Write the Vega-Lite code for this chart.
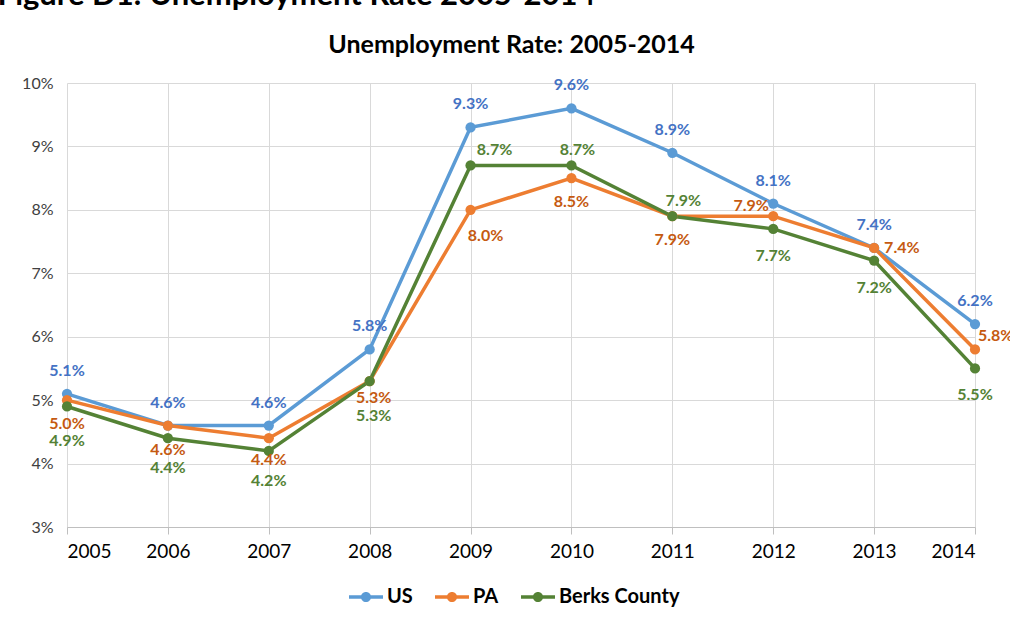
{
  "$schema": "https://vega.github.io/schema/vega-lite/v6.json",
  "autosize": "none",
  "width": 908,
  "height": 444,
  "padding": {"left": 67, "top": 83, "right": 35, "bottom": 93},
  "background": "white",
  "config": {
    "view": {"stroke": null},
    "font": "Lato",
    "axis": {"gridColor": "#D9D9D9", "gridWidth": 1, "domainColor": "#BFBFBF", "tickColor": "#BFBFBF"}
  },
  "title": {
    "text": "Figure D1: Unemployment Rate 2005-2014",
    "anchor": "start",
    "frame": "bounds",
    "dx": -24,
    "dy": 12,
    "fontSize": 31,
    "fontWeight": "bold",
    "font": "Lato",
    "color": "#000000",
    "baseline": "alphabetic",
    "offset": 8
  },
  "data": {
    "values": [
      {"year": 2005, "series": "US", "rate": 0.051},
      {"year": 2006, "series": "US", "rate": 0.046},
      {"year": 2007, "series": "US", "rate": 0.046},
      {"year": 2008, "series": "US", "rate": 0.058},
      {"year": 2009, "series": "US", "rate": 0.093},
      {"year": 2010, "series": "US", "rate": 0.096},
      {"year": 2011, "series": "US", "rate": 0.089},
      {"year": 2012, "series": "US", "rate": 0.081},
      {"year": 2013, "series": "US", "rate": 0.074},
      {"year": 2014, "series": "US", "rate": 0.062},
      {"year": 2005, "series": "PA", "rate": 0.050},
      {"year": 2006, "series": "PA", "rate": 0.046},
      {"year": 2007, "series": "PA", "rate": 0.044},
      {"year": 2008, "series": "PA", "rate": 0.053},
      {"year": 2009, "series": "PA", "rate": 0.080},
      {"year": 2010, "series": "PA", "rate": 0.085},
      {"year": 2011, "series": "PA", "rate": 0.079},
      {"year": 2012, "series": "PA", "rate": 0.079},
      {"year": 2013, "series": "PA", "rate": 0.074},
      {"year": 2014, "series": "PA", "rate": 0.058},
      {"year": 2005, "series": "Berks County", "rate": 0.049},
      {"year": 2006, "series": "Berks County", "rate": 0.044},
      {"year": 2007, "series": "Berks County", "rate": 0.042},
      {"year": 2008, "series": "Berks County", "rate": 0.053},
      {"year": 2009, "series": "Berks County", "rate": 0.087},
      {"year": 2010, "series": "Berks County", "rate": 0.087},
      {"year": 2011, "series": "Berks County", "rate": 0.079},
      {"year": 2012, "series": "Berks County", "rate": 0.077},
      {"year": 2013, "series": "Berks County", "rate": 0.072},
      {"year": 2014, "series": "Berks County", "rate": 0.055}
    ]
  },
  "encoding": {
    "x": {
      "field": "year", "type": "quantitative",
      "scale": {"domain": [2005, 2014], "nice": false, "zero": false},
      "axis": {
        "title": null,
        "values": [2005, 2006, 2007, 2008, 2009, 2010, 2011, 2012, 2013, 2014],
        "format": "d",
        "grid": true,
        "tickSize": 7,
        "labelPadding": 8,
        "labelFontSize": 19,
        "labelColor": "#000000",
        "labelFont": "Lato"
      }
    },
    "y": {
      "field": "rate", "type": "quantitative",
      "scale": {"domain": [0.03, 0.10], "nice": false, "zero": false},
      "axis": {
        "title": "Unemployment Rate: 2005-2014",
        "titleAngle": 0,
        "titleAlign": "center",
        "titleBaseline": "alphabetic",
        "titleX": 444,
        "titleY": -31,
        "titleFontSize": 25,
        "titleFontWeight": "bold",
        "titleColor": "#000000",
        "titleFont": "Lato",
        "values": [0.03, 0.04, 0.05, 0.06, 0.07, 0.08, 0.09, 0.10],
        "format": ".0%",
        "grid": true,
        "domain": false,
        "ticks": false,
        "labelPadding": 14,
        "labelFontSize": 16,
        "labelColor": "#404040",
        "labelFont": "Lato"
      }
    }
  },
  "layer": [
    {
      "mark": {"type": "line", "strokeWidth": 3.5},
      "encoding": {
        "color": {
          "field": "series", "type": "nominal",
          "scale": {"domain": ["US", "PA", "Berks County"], "range": ["#5B9BD5", "#ED7D31", "#548235"]},
          "legend": {
            "title": null,
            "orient": "none",
            "direction": "horizontal",
            "legendX": 282,
            "legendY": 497,
            "symbolType": "M-1,-0.1L1,-0.1L1,0.1L-1,0.1Z M0.3,0 A0.3,0.3 0 1 1 -0.3,0 A0.3,0.3 0 1 1 0.3,0 Z",
            "symbolSize": 1156,
            "symbolStrokeWidth": 0,
            "labelFontSize": 20,
            "labelFontWeight": "bold",
            "labelFont": "Lato",
            "labelColor": "#000000",
            "labelOffset": 4,
            "columnPadding": 22,
            "encode": {"symbols": {"update": {"fill": {"scale": "color", "field": "value"}, "fillOpacity": {"value": 1}, "strokeWidth": {"value": 0}}}}
          }
        }
      }
    },
    {
      "mark": {"type": "point", "filled": true, "size": 105, "opacity": 1},
      "encoding": {"color": {"field": "series", "type": "nominal", "legend": null}}
    },
    {
      "transform": [{"filter": "datum.series == 'US'"}],
      "mark": {"type": "text", "dy": -23, "baseline": "middle", "fontSize": 16, "fontWeight": "bold", "color": "#4472C4"},
      "encoding": {"text": {"field": "rate", "type": "quantitative", "format": ".1%"}}
    },
    {
      "transform": [{"filter": "datum.series == 'PA' && indexof([2005, 2006, 2010, 2011], datum.year) >= 0"}],
      "mark": {"type": "text", "dy": 24, "baseline": "middle", "fontSize": 16, "fontWeight": "bold", "color": "#C55A11"},
      "encoding": {"text": {"field": "rate", "type": "quantitative", "format": ".1%"}}
    },
    {
      "transform": [{"filter": "datum.series == 'PA' && datum.year == 2007"}],
      "mark": {"type": "text", "dy": 22, "baseline": "middle", "fontSize": 16, "fontWeight": "bold", "color": "#C55A11"},
      "encoding": {"text": {"field": "rate", "type": "quantitative", "format": ".1%"}}
    },
    {
      "transform": [{"filter": "datum.series == 'PA' && datum.year == 2008"}],
      "mark": {"type": "text", "dx": 4, "dy": 17, "baseline": "middle", "fontSize": 16, "fontWeight": "bold", "color": "#C55A11"},
      "encoding": {"text": {"field": "rate", "type": "quantitative", "format": ".1%"}}
    },
    {
      "transform": [{"filter": "datum.series == 'PA' && datum.year == 2009"}],
      "mark": {"type": "text", "dx": 15, "dy": 26, "baseline": "middle", "fontSize": 16, "fontWeight": "bold", "color": "#C55A11"},
      "encoding": {"text": {"field": "rate", "type": "quantitative", "format": ".1%"}}
    },
    {
      "transform": [{"filter": "datum.series == 'PA' && datum.year == 2012"}],
      "mark": {"type": "text", "dx": -22, "dy": -10, "baseline": "middle", "fontSize": 16, "fontWeight": "bold", "color": "#C55A11"},
      "encoding": {"text": {"field": "rate", "type": "quantitative", "format": ".1%"}}
    },
    {
      "transform": [{"filter": "datum.series == 'PA' && datum.year == 2013"}],
      "mark": {"type": "text", "align": "left", "dx": 10, "dy": 0, "baseline": "middle", "fontSize": 16, "fontWeight": "bold", "color": "#C55A11"},
      "encoding": {"text": {"field": "rate", "type": "quantitative", "format": ".1%"}}
    },
    {
      "transform": [{"filter": "datum.series == 'PA' && datum.year == 2014"}],
      "mark": {"type": "text", "align": "left", "dx": 3, "dy": -13, "baseline": "middle", "fontSize": 16, "fontWeight": "bold", "color": "#C55A11"},
      "encoding": {"text": {"field": "rate", "type": "quantitative", "format": ".1%"}}
    },
    {
      "transform": [{"filter": "datum.series == 'Berks County' && indexof([2012, 2013, 2014], datum.year) >= 0"}],
      "mark": {"type": "text", "dy": 27, "baseline": "middle", "fontSize": 16, "fontWeight": "bold", "color": "#548235"},
      "encoding": {"text": {"field": "rate", "type": "quantitative", "format": ".1%"}}
    },
    {
      "transform": [{"filter": "datum.series == 'Berks County' && datum.year == 2007"}],
      "mark": {"type": "text", "dy": 30, "baseline": "middle", "fontSize": 16, "fontWeight": "bold", "color": "#548235"},
      "encoding": {"text": {"field": "rate", "type": "quantitative", "format": ".1%"}}
    },
    {
      "transform": [{"filter": "datum.series == 'Berks County' && datum.year == 2006"}],
      "mark": {"type": "text", "dy": 30, "baseline": "middle", "fontSize": 16, "fontWeight": "bold", "color": "#548235"},
      "encoding": {"text": {"field": "rate", "type": "quantitative", "format": ".1%"}}
    },
    {
      "transform": [{"filter": "datum.series == 'Berks County' && datum.year == 2005"}],
      "mark": {"type": "text", "dy": 35, "baseline": "middle", "fontSize": 16, "fontWeight": "bold", "color": "#548235"},
      "encoding": {"text": {"field": "rate", "type": "quantitative", "format": ".1%"}}
    },
    {
      "transform": [{"filter": "datum.series == 'Berks County' && datum.year == 2008"}],
      "mark": {"type": "text", "dx": 4, "dy": 35, "baseline": "middle", "fontSize": 16, "fontWeight": "bold", "color": "#548235"},
      "encoding": {"text": {"field": "rate", "type": "quantitative", "format": ".1%"}}
    },
    {
      "transform": [{"filter": "datum.series == 'Berks County' && datum.year == 2009"}],
      "mark": {"type": "text", "dx": 24, "dy": -15, "baseline": "middle", "fontSize": 16, "fontWeight": "bold", "color": "#548235"},
      "encoding": {"text": {"field": "rate", "type": "quantitative", "format": ".1%"}}
    },
    {
      "transform": [{"filter": "datum.series == 'Berks County' && datum.year == 2010"}],
      "mark": {"type": "text", "dx": 6, "dy": -15, "baseline": "middle", "fontSize": 16, "fontWeight": "bold", "color": "#548235"},
      "encoding": {"text": {"field": "rate", "type": "quantitative", "format": ".1%"}}
    },
    {
      "transform": [{"filter": "datum.series == 'Berks County' && datum.year == 2011"}],
      "mark": {"type": "text", "dx": 11, "dy": -15, "baseline": "middle", "fontSize": 16, "fontWeight": "bold", "color": "#548235"},
      "encoding": {"text": {"field": "rate", "type": "quantitative", "format": ".1%"}}
    }
  ]
}
